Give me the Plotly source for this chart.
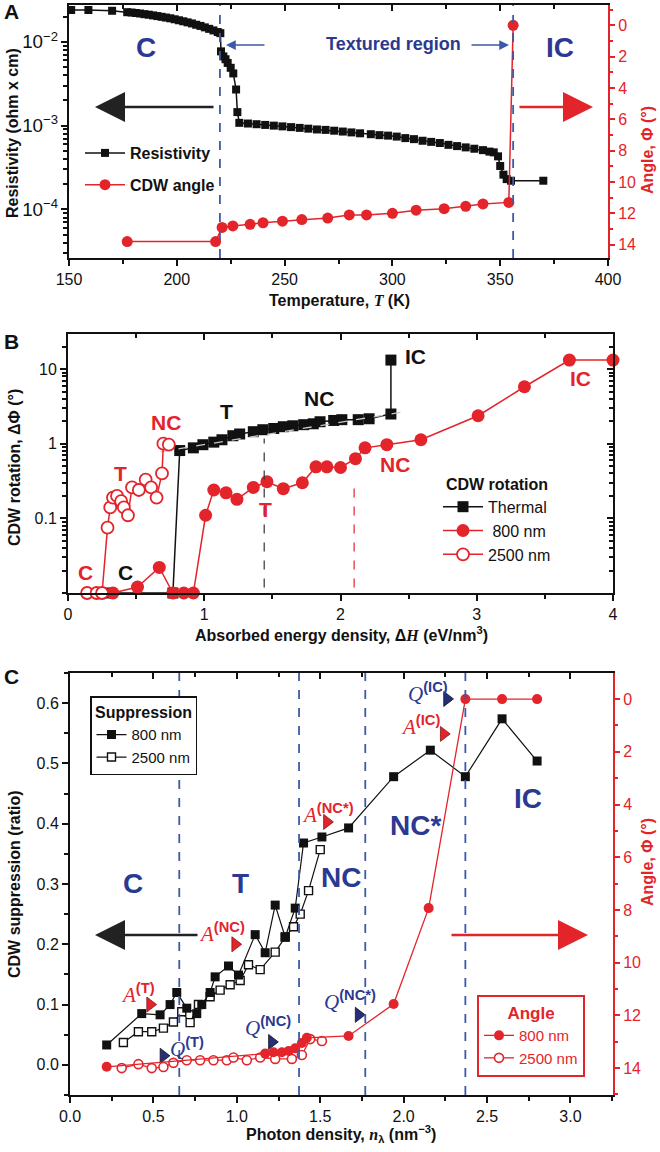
import math
import plotly.graph_objects as go

W, H = 660, 1152
RED = "#e3242b"
BLACK = "#111111"
NAVY = "#2b3990"
DASH_BLUE = "#3d5aa8"
FONT = "Liberation Sans, Arial, sans-serif"

# ---------------- panel A: resistivity and CDW angle vs temperature
temp_res = [151, 159, 170, 177, 179, 181, 183, 185, 187, 189, 191, 193, 195, 197, 199, 201,
            203, 205, 207, 209, 211, 213, 215, 217, 219, 220.2,
            220.5, 221.6, 222.6, 223.6, 225, 226.2, 227.5, 228.1, 229.0,
            233, 237, 241, 245, 249, 253, 257, 261, 265, 269, 273, 277, 281, 285,
            290, 294, 298, 302, 306, 310, 314, 318, 322, 326, 330, 334, 338, 342,
            345, 347, 349, 350, 351.5, 353, 355, 370]
resistivity = [0.024, 0.024, 0.0235, 0.0226, 0.0224, 0.0221, 0.0218, 0.0214, 0.0211, 0.0207,
               0.0203, 0.0199, 0.0195, 0.0191, 0.0186, 0.0181, 0.0176, 0.0171, 0.0166, 0.0160,
               0.0155, 0.0149, 0.0143, 0.0137, 0.0131, 0.0127,
               0.0077, 0.0067, 0.0062, 0.0056, 0.0049, 0.0042, 0.0027, 0.00145, 0.00108,
               0.00106, 0.00104, 0.00102, 0.00100, 0.00098, 0.00096, 0.00094, 0.00092, 0.00090,
               0.00089, 0.00087, 0.00085, 0.00083, 0.00081,
               0.00079, 0.00077, 0.00076, 0.00074, 0.00071, 0.00069, 0.00066, 0.00064, 0.00062,
               0.00059, 0.00057, 0.00055, 0.00053, 0.00051,
               0.00049, 0.00048, 0.00043, 0.00033, 0.00026, 0.00023, 0.00022, 0.00022]
temp_ang = [177, 218, 221, 226, 234, 240, 249, 258, 270, 280, 288, 300, 311, 324, 334, 342, 354, 356]
angle_a = [13.8, 13.8, 12.9, 12.8, 12.7, 12.6, 12.5, 12.4, 12.3, 12.1, 12.1, 12.0, 11.8, 11.7,
           11.55, 11.4, 11.3, 0.0]
t_transitions = [220, 356]

# ---------------- panel B: CDW rotation vs absorbed energy density
therm_x = [0.31, 0.77, 0.82, 0.92, 0.99, 1.07, 1.13, 1.21, 1.26, 1.36, 1.43, 1.51, 1.58, 1.65,
           1.73, 1.80, 1.85, 1.95, 2.01, 2.13, 2.21, 2.37, 2.37]
therm_y = [0.01, 0.01, 0.81, 0.88, 0.97, 1.05, 1.13, 1.28, 1.35, 1.45, 1.54, 1.60, 1.69, 1.74,
           1.80, 1.85, 1.97, 2.05, 2.10, 2.10, 2.16, 2.50, 13.2]
fit_x = [0.68, 2.48]
fit_y = [0.78, 2.7]
r800_x = [0.33, 0.51, 0.67, 0.77, 0.85, 0.92, 1.01, 1.07, 1.16, 1.24, 1.36, 1.46, 1.58, 1.72,
          1.82, 1.90, 2.00, 2.11, 2.18, 2.34, 2.59, 3.01, 3.35, 3.68, 4.0]
r800_y = [0.01, 0.012, 0.022, 0.01, 0.01, 0.01, 0.11, 0.24, 0.22, 0.18, 0.26, 0.31, 0.25, 0.30,
          0.49, 0.49, 0.48, 0.63, 0.88, 0.97, 1.13, 2.37, 5.8, 13.2, 13.2]
r2500_x = [0.14, 0.21, 0.25, 0.29, 0.31, 0.33, 0.36, 0.39, 0.41, 0.44, 0.47, 0.52, 0.57, 0.61,
           0.65, 0.69, 0.70, 0.74]
r2500_y = [0.01, 0.01, 0.01, 0.075, 0.14, 0.19, 0.20, 0.17, 0.14, 0.11, 0.26, 0.24, 0.33, 0.26,
           0.19, 0.40, 1.0, 0.97]
thermal_boundary = [1.44, 15.0, 0.56]   # x, y top, y bottom
optical_boundary = [2.10, 1.9, 0.19]

# ---------------- panel C: suppression and angle vs photon density
s800_x = [0.22, 0.43, 0.54, 0.60, 0.64, 0.70, 0.76, 0.79, 0.84, 0.87, 0.95, 1.01, 1.11, 1.17,
          1.23, 1.29, 1.35, 1.40, 1.51, 1.67, 1.94, 2.16, 2.37, 2.59, 2.80]
s800_y = [0.033, 0.085, 0.083, 0.10, 0.12, 0.094, 0.085, 0.10, 0.12, 0.146, 0.164, 0.149, 0.216,
          0.186, 0.265, 0.212, 0.26, 0.368, 0.378, 0.393, 0.478, 0.522, 0.478, 0.574, 0.504]
s2500_x = [0.32, 0.41, 0.49, 0.56, 0.62, 0.67, 0.72, 0.77, 0.84, 0.90, 0.96, 1.02, 1.07, 1.14,
           1.23, 1.29, 1.34, 1.38, 1.43, 1.50]
s2500_y = [0.037, 0.055, 0.055, 0.061, 0.071, 0.088, 0.07, 0.10, 0.113, 0.124, 0.133, 0.14,
           0.166, 0.158, 0.187, 0.212, 0.229, 0.25, 0.289, 0.357]
a800_x = [0.22, 1.17, 1.22, 1.27, 1.31, 1.35, 1.39, 1.42, 1.67, 1.94, 2.15, 2.37, 2.59, 2.80]
a800_y = [13.95, 13.45, 13.4, 13.4, 13.35, 13.25, 13.05, 12.85, 12.78, 11.57, 7.93, 0, 0, 0]
a2500_x = [0.31, 0.41, 0.49, 0.56, 0.62, 0.70, 0.78, 0.86, 0.94, 0.98, 1.06, 1.14, 1.23, 1.33,
           1.39, 1.44, 1.51]
a2500_y = [14.0, 13.85, 14.0, 13.96, 13.8, 13.7, 13.7, 13.7, 13.7, 13.6, 13.7, 13.6, 13.65,
           13.65, 13.5, 12.9, 12.97]
amp_mark_x = [0.48, 0.99, 1.54, 2.24]
amp_mark_y = [0.10, 0.20, 0.403, 0.549]
q_mark_x = [0.56, 1.21, 1.73, 2.26]
q_mark_y = [0.015, 0.038, 0.083, 0.607]
n_transitions = [0.655, 1.373, 1.77, 2.37]


def fx(p):
    return p / W


def fy(p):
    return 1 - p / H


fig = go.Figure()

# panel A traces
fig.add_trace(go.Scatter(x=temp_res, y=resistivity, name="Resistivity", mode="lines+markers",
                         line=dict(color=BLACK, width=1.5),
                         marker=dict(symbol="square", size=8, color=BLACK),
                         xaxis="x", yaxis="y", legend="legend", legendgroup="a1"))
fig.add_trace(go.Scatter(x=temp_ang, y=angle_a, name="CDW angle", mode="lines+markers",
                         line=dict(color=RED, width=1.5),
                         marker=dict(symbol="circle", size=11, color=RED),
                         xaxis="x", yaxis="y2", legend="legend", legendgroup="a2"))

# panel B traces
fig.add_trace(go.Scatter(x=therm_x, y=therm_y, name="Thermal", mode="lines+markers",
                         line=dict(color=BLACK, width=1.5),
                         marker=dict(symbol="square", size=11, color=BLACK),
                         cliponaxis=False, xaxis="x2", yaxis="y3", legend="legend2",
                         legendrank=1))
fig.add_trace(go.Scatter(x=fit_x, y=fit_y, mode="lines", showlegend=False,
                         line=dict(color="#c8c8c8", width=1.3, dash="dash"),
                         xaxis="x2", yaxis="y3"))
fig.add_trace(go.Scatter(x=r800_x, y=r800_y, name=" 800 nm", mode="lines+markers",
                         line=dict(color=RED, width=1.5),
                         marker=dict(symbol="circle", size=13, color=RED),
                         cliponaxis=False, xaxis="x2", yaxis="y3", legend="legend2",
                         legendrank=2))
fig.add_trace(go.Scatter(x=r2500_x, y=r2500_y, name="2500 nm", mode="lines+markers",
                         line=dict(color=RED, width=1.5),
                         marker=dict(symbol="circle", size=12, color="white",
                                     line=dict(color=RED, width=1.8)),
                         cliponaxis=False, xaxis="x2", yaxis="y3", legend="legend2",
                         legendrank=3))

# panel C traces
fig.add_trace(go.Scatter(x=a2500_x, y=a2500_y, name="2500 nm", mode="lines+markers",
                         line=dict(color=RED, width=1.3),
                         marker=dict(symbol="circle", size=9, color="white",
                                     line=dict(color=RED, width=1.6)),
                         xaxis="x3", yaxis="y5", legend="legend4", legendrank=2))
fig.add_trace(go.Scatter(x=a800_x, y=a800_y, name="800 nm", mode="lines+markers",
                         line=dict(color=RED, width=1.3),
                         marker=dict(symbol="circle", size=10, color=RED),
                         xaxis="x3", yaxis="y5", legend="legend4", legendrank=1))
fig.add_trace(go.Scatter(x=s2500_x, y=s2500_y, name="2500 nm", mode="lines+markers",
                         line=dict(color=BLACK, width=1.2),
                         marker=dict(symbol="square", size=8, color="white",
                                     line=dict(color=BLACK, width=1.4)),
                         xaxis="x3", yaxis="y4", legend="legend3", legendrank=2))
fig.add_trace(go.Scatter(x=s800_x, y=s800_y, name="800 nm", mode="lines+markers",
                         line=dict(color=BLACK, width=1.2),
                         marker=dict(symbol="square", size=9, color=BLACK),
                         xaxis="x3", yaxis="y4", legend="legend3", legendrank=1))
fig.add_trace(go.Scatter(x=amp_mark_x, y=amp_mark_y, mode="markers", showlegend=False,
                         marker=dict(symbol="triangle-right", size=13, color=RED,
                                     line=dict(color="#7a1a1a", width=0.8)),
                         xaxis="x3", yaxis="y4"))
fig.add_trace(go.Scatter(x=q_mark_x, y=q_mark_y, mode="markers", showlegend=False,
                         marker=dict(symbol="triangle-right", size=13, color="#26307a",
                                     line=dict(color=BLACK, width=0.8)),
                         xaxis="x3", yaxis="y4"))

# empty traces so the mirror axes get drawn
for xa, ya in [("x4", "y"), ("x5", "y3"), ("x2", "y6"), ("x6", "y4")]:
    fig.add_trace(go.Scatter(x=[], y=[], xaxis=xa, yaxis=ya, showlegend=False))

base = dict(showline=True, linecolor=BLACK, linewidth=2, ticks="outside", tickcolor=BLACK,
            tickwidth=1.5, ticklen=6, tickfont=dict(size=16, color=BLACK, family=FONT),
            showgrid=False, zeroline=False, automargin=False)


def mirror(**kw):
    d = dict(showline=True, linecolor=BLACK, linewidth=2, ticks="inside", tickcolor=BLACK,
             tickwidth=1.5, ticklen=6, showticklabels=False, showgrid=False, zeroline=False,
             automargin=False)
    d.update(kw)
    return d


dom_a = [fy(258), fy(5)]
dom_b = [fy(593), fy(334)]
dom_c = [fy(1095), fy(673)]

fig.update_layout(
    width=W, height=H, margin=dict(l=0, r=0, t=0, b=0),
    paper_bgcolor="white", plot_bgcolor="white",
    font=dict(family=FONT, color=BLACK),
    # panel A
    xaxis=dict(base, domain=[fx(69), fx(608)], anchor="y", range=[150, 400], dtick=50,
               minor=dict(ticks="outside", ticklen=4, dtick=25, tickcolor=BLACK)),
    xaxis4=dict(mirror(), overlaying="x", side="top", anchor="y", range=[150, 400], dtick=50,
                minor=dict(ticks="inside", ticklen=4, dtick=25, tickcolor=BLACK)),
    yaxis=dict(base, domain=dom_a, anchor="x", type="log", range=[-4.58, -1.56], dtick=1,
               exponentformat="power", showexponent="all",
               tickfont=dict(size=15, color=BLACK, family=FONT),
               minor=dict(ticks="outside", ticklen=4, dtick="D1", tickcolor=BLACK)),
    yaxis2=dict(base, overlaying="y", side="right", anchor="x", range=[14.85, -1.3],
                tickvals=list(range(0, 15, 2)), linecolor=RED, tickcolor=RED, ticklen=5,
                tickfont=dict(size=16, color=RED, family=FONT),
                minor=dict(ticks="outside", ticklen=3, dtick=1, tickcolor=RED)),
    # panel B
    xaxis2=dict(base, domain=[fx(68), fx(613)], anchor="y3", range=[0, 4], dtick=1,
                minor=dict(ticks="outside", ticklen=4, dtick=0.5, tickcolor=BLACK)),
    xaxis5=dict(mirror(), overlaying="x2", side="top", anchor="y3", range=[0, 4], dtick=1,
                minor=dict(ticks="inside", ticklen=4, dtick=0.5, tickcolor=BLACK)),
    yaxis3=dict(base, domain=dom_b, anchor="x2", type="log", range=[-2.0, 1.47],
                tickvals=[0.1, 1, 10], ticktext=["0.1", "1", "10"],
                minor=dict(ticks="outside", ticklen=4, dtick="D1", tickcolor=BLACK)),
    yaxis6=dict(mirror(), overlaying="y3", side="right", anchor="x2", type="log",
                range=[-2.0, 1.47], tickvals=[0.1, 1, 10],
                minor=dict(ticks="inside", ticklen=4, dtick="D1", tickcolor=BLACK)),
    # panel C
    xaxis3=dict(base, domain=[fx(70), fx(613)], anchor="y4", range=[0, 3.255], dtick=0.5,
                tickformat=".1f",
                minor=dict(ticks="outside", ticklen=4, dtick=0.25, tickcolor=BLACK)),
    xaxis6=dict(mirror(), overlaying="x3", side="top", anchor="y4", range=[0, 3.255],
                dtick=0.5, minor=dict(ticks="inside", ticklen=4, dtick=0.25, tickcolor=BLACK)),
    yaxis4=dict(base, domain=dom_c, anchor="x3", range=[-0.05, 0.65], dtick=0.1,
                tickformat=".1f",
                minor=dict(ticks="outside", ticklen=4, dtick=0.05, tickcolor=BLACK)),
    yaxis5=dict(base, overlaying="y4", side="right", anchor="x3", range=[15.02, -0.99],
                tickvals=list(range(0, 15, 2)), linecolor=RED, tickcolor=RED, ticklen=5,
                tickfont=dict(size=16, color=RED, family=FONT),
                minor=dict(ticks="outside", ticklen=3, dtick=1, tickcolor=RED)),
    # legends
    legend=dict(x=fx(80), y=fy(136), xanchor="left", yanchor="top", bgcolor="rgba(0,0,0,0)",
                font=dict(size=16, family=FONT, weight="bold", color=BLACK),
                traceorder="grouped", tracegroupgap=8, itemwidth=40),
    legend2=dict(x=fx(438), y=fy(469), xanchor="left", yanchor="top", bgcolor="rgba(0,0,0,0)",
                 title=dict(text="CDW rotation", side="top center",
                            font=dict(size=16, family=FONT, weight="bold", color=BLACK)),
                 font=dict(size=16, family=FONT, color=BLACK), itemwidth=40),
    legend3=dict(x=fx(90), y=fy(696), xanchor="left", yanchor="top", bgcolor="white",
                 bordercolor=BLACK, borderwidth=1.5,
                 title=dict(text="Suppression", side="top center",
                            font=dict(size=16, family=FONT, weight="bold", color=BLACK)),
                 font=dict(size=15, family=FONT, color=BLACK), itemwidth=30),
    legend4=dict(x=fx(477), y=fy(995), xanchor="left", yanchor="top", bgcolor="white",
                 bordercolor=RED, borderwidth=2,
                 title=dict(text="Angle", side="top center",
                            font=dict(size=17, family=FONT, weight="bold", color=RED)),
                 font=dict(size=15, family=FONT, color=RED), itemwidth=30),
)

# dashed boundary lines
for t in t_transitions:
    fig.add_shape(type="line", xref="x", yref="y domain", x0=t, x1=t, y0=0, y1=1,
                  line=dict(color=DASH_BLUE, width=1.8, dash="dash"))
for n in n_transitions:
    fig.add_shape(type="line", xref="x3", yref="y4 domain", x0=n, x1=n, y0=0, y1=1,
                  line=dict(color=DASH_BLUE, width=1.8, dash="dash"))
fig.add_shape(type="line", xref="x2", yref="y3", x0=thermal_boundary[0], x1=thermal_boundary[0],
              y0=math.log10(thermal_boundary[2]), y1=math.log10(thermal_boundary[1]),
              line=dict(color="#333333", width=1.2, dash="dash"))
fig.add_shape(type="line", xref="x2", yref="y3", x0=optical_boundary[0], x1=optical_boundary[0],
              y0=math.log10(optical_boundary[2]), y1=math.log10(optical_boundary[1]),
              line=dict(color=RED, width=1.2, dash="dash"))


def label(text, x, y, size, color, bold=True, xanchor="center", angle=0):
    fig.add_annotation(text=text, x=fx(x), y=fy(y), xref="paper", yref="paper",
                       showarrow=False, xanchor=xanchor, yanchor="middle", textangle=angle,
                       font=dict(size=size, color=color, family=FONT,
                                 weight="bold" if bold else "normal"))


def arrow(x_head, x_tail, y, color, width, size):
    fig.add_annotation(x=fx(x_head), y=fy(y), xref="paper", yref="paper", text="",
                       showarrow=True, ax=x_tail - x_head, ay=0, axref="pixel", ayref="pixel",
                       arrowhead=2, arrowsize=size, arrowwidth=width, arrowcolor=color)


ital = "<span style='font-family:Liberation Serif'><i>{}</i></span>"

# axis titles
label("Temperature, " + ital.format("T") + " (K)", 339, 300, 16, BLACK)
label("Resistivity (ohm x cm)", 13, 133, 16, BLACK, angle=-90)
label("Angle, Φ (°)", 647, 150, 16, RED, angle=-90)
label("Absorbed energy density, Δ" + ital.format("H") + " (eV/nm<sup>3</sup>)", 341, 634, 16, BLACK)
label("CDW rotation, ΔΦ (°)", 14, 468, 16, BLACK, angle=-90)
label("Photon density, " + ital.format("n") + "<sub>λ</sub> (nm<sup>−3</sup>)", 341, 1134, 16, BLACK)
label("CDW suppression (ratio)", 14, 884, 16, BLACK, angle=-90)
label("Angle, Φ (°)", 647, 862, 16, RED, angle=-90)

# panel letters
label("A", 2, 11, 21, BLACK, xanchor="left")
label("B", 2, 341, 21, BLACK, xanchor="left")
label("C", 2, 676, 21, BLACK, xanchor="left")

# panel A texts
label("C", 146, 47, 28, NAVY)
label("Textured region", 393, 44, 18, NAVY)
label("IC", 560, 47, 28, NAVY)
arrow(226, 266, 45, DASH_BLUE, 1.5, 1.3)
arrow(509, 470, 45, DASH_BLUE, 1.5, 1.3)
arrow(95, 215, 107, "#222222", 2.5, 2.4)
arrow(593, 518, 107, RED, 2.5, 2.4)

# panel B texts
label("C", 85, 572, 21, RED)
label("C", 125, 572, 21, BLACK)
label("T", 120, 473, 21, RED)
label("NC", 166, 422, 21, RED)
label("T", 226, 412, 21, BLACK)
label("NC", 319, 398, 21, BLACK)
label("IC", 416, 357, 21, BLACK)
label("IC", 580, 378, 21, RED)
label("T", 265, 510, 21, RED)
label("NC", 395, 465, 21, RED)

# panel C texts
label("C", 133, 883, 28, NAVY)
label("T", 240, 883, 28, NAVY)
label("NC", 341, 877, 28, NAVY)
label("NC*", 416, 825, 28, NAVY)
label("IC", 528, 798, 28, NAVY)
arrow(95, 199, 935, "#222222", 2.5, 2.4)
arrow(588, 450, 935, RED, 2.5, 2.4)

marks = [("A", "(T)", 138, 993, RED), ("Q", "(T)", 187, 1047, NAVY),
         ("A", "(NC)", 222, 932, RED), ("Q", "(NC)", 268, 1026, NAVY),
         ("A", "(NC*)", 328, 813, RED), ("Q", "(NC*)", 350, 1000, NAVY),
         ("A", "(IC)", 420, 725, RED), ("Q", "(IC)", 428, 692, NAVY)]
for letter, sup, x, y, col in marks:
    fig.add_annotation(
        text=ital.format(letter) + f"<sup><b>{sup}</b></sup>",
        x=fx(x), y=fy(y), xref="paper", yref="paper", showarrow=False,
        xanchor="center", yanchor="middle", font=dict(size=21, color=col, family=FONT))

# the page's default body margin would shift the whole figure by 8 px
fig.write_html("out.html", config={"displayModeBar": False},
               post_script="document.body.style.margin='0';")
